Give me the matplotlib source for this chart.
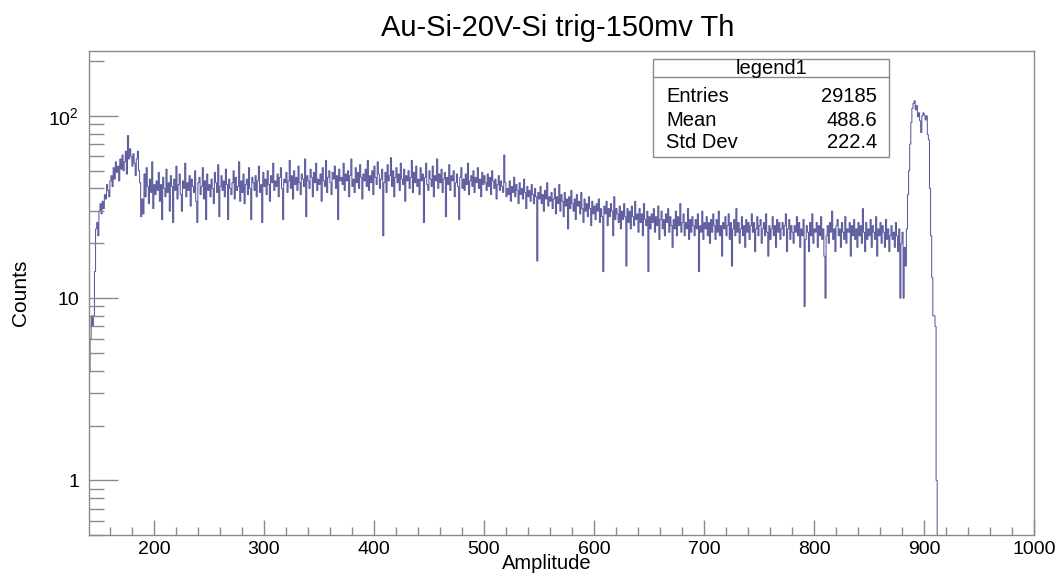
import numpy as np
import matplotlib.pyplot as plt
from matplotlib.ticker import MultipleLocator, LogLocator, FixedLocator, FixedFormatter, NullFormatter
from matplotlib.patches import Rectangle
from matplotlib.lines import Line2D

plt.rcParams['font.family'] = ['Liberation Sans', 'DejaVu Sans']
plt.rcParams['mathtext.fontset'] = 'custom'
plt.rcParams['mathtext.rm'] = 'Liberation Sans'

title = 'Au-Si-20V-Si trig-150mv Th'

# histogram: 1 count per unit bin, first bin starts at amp_lo
amp_lo = 141
counts = [
    4, 6, 8, 7, 8, 14, 24, 26, 22, 30,          # 141
    33, 29, 34, 31, 37, 35, 42, 39, 36, 44,
    47, 41, 52, 45, 56, 49, 53, 44, 58, 51,
    61, 50, 56, 64, 48, 78, 58, 66, 60, 53,
    62, 55, 47, 58, 64, 50, 43, 28, 35, 29,
    48, 36, 52, 41, 33, 45, 38, 56, 31, 42,
    37, 44, 39, 49, 34, 42, 27, 46, 40, 36,     # 201
    51, 38, 43, 30, 47, 41, 26, 45, 39, 53,
    35, 42, 48, 37, 30, 44, 40, 55, 36, 43,
    39, 47, 32, 45, 41, 38, 50, 34, 26, 43,
    46, 37, 41, 52, 35, 44, 27, 48, 39, 42,
    36, 45, 40, 33, 49, 43, 38, 54, 28, 41,
    47, 39, 44, 36, 51, 42, 27, 45, 40, 37,
    43, 50, 35, 46, 39, 41, 56, 34, 44, 38,
    48, 33, 42, 45, 37, 52, 40, 27, 46, 43,
    39, 47, 36, 44, 53, 38, 42, 26, 49, 41,
    45, 37, 50, 42, 34, 47, 43, 55, 39, 44,     # 301
    41, 48, 36, 46, 52, 40, 27, 45, 43, 49,
    38, 44, 57, 40, 47, 35, 50, 42, 46, 39,
    53, 43, 37, 48, 45, 41, 58, 28, 47, 44,
    40, 51, 46, 36, 49, 43, 55, 39, 45, 42,
    48, 34, 52, 44, 41, 57, 38, 46, 50, 43,
    37, 49, 45, 53, 40, 47, 27, 51, 44, 46,
    42, 55, 39, 48, 44, 50, 36, 47, 58, 41,
    45, 38, 52, 43, 49, 40, 54, 46, 35, 48,
    44, 51, 41, 57, 39, 47, 43, 50, 37, 53,
    46, 42, 56, 48, 40, 45, 51, 22, 43, 49,     # 401
    38, 54, 44, 47, 59, 41, 50, 36, 46, 52,
    43, 48, 39, 55, 45, 42, 51, 34, 47, 44,
    50, 40, 46, 57, 38, 49, 43, 53, 41, 45,
    37, 52, 44, 48, 26, 46, 55, 42, 39, 50,
    45, 41, 53, 36, 47, 44, 58, 40, 48, 43,
    51, 38, 45, 49, 28, 46, 42, 54, 39, 47,
    44, 50, 36, 43, 48, 41, 27, 46, 52, 40,
    45, 39, 48, 42, 55, 37, 44, 47, 41, 50,
    38, 46, 43, 52, 40, 45, 36, 49, 42, 47,
    43, 39, 48, 41, 46, 37, 50, 44, 40, 45,     # 501
    35, 42, 47, 39, 44, 41, 38, 61, 43, 36,
    40, 37, 44, 34, 41, 38, 46, 36, 42, 39,
    33, 43, 37, 40, 35, 45, 38, 31, 41, 36,
    39, 34, 42, 37, 33, 40, 36, 16, 38, 35,
    41, 33, 37, 30, 39, 35, 43, 32, 36, 34,
    38, 31, 35, 40, 29, 36, 33, 42, 30, 37,
    34, 28, 38, 32, 35, 24, 36, 31, 39, 33,
    30, 35, 27, 37, 32, 34, 29, 38, 31, 26,
    35, 30, 33, 28, 36, 31, 25, 34, 29, 32,
    27, 33, 30, 35, 26, 31, 28, 14, 32, 29,     # 601
    34, 25, 31, 28, 33, 30, 22, 36, 27, 31,
    29, 26, 32, 24, 30, 27, 33, 28, 15, 31,
    26, 30, 24, 32, 28, 25, 34, 27, 29, 23,
    31, 26, 29, 22, 33, 27, 25, 30, 14, 28,
    24, 29, 26, 31, 23, 28, 25, 32, 21, 27,
    30, 24, 27, 22, 29, 26, 31, 23, 28, 25,
    19, 27, 24, 30, 22, 28, 25, 33, 23, 26,
    29, 22, 26, 24, 31, 21, 27, 23, 28, 25,
    22, 27, 24, 29, 14, 25, 23, 30, 21, 26,
    24, 28, 22, 26, 20, 27, 23, 29, 25, 21,     # 701
    27, 23, 30, 22, 25, 17, 26, 24, 28, 22,
    25, 29, 21, 26, 15, 24, 27, 22, 31, 23,
    26, 20, 24, 28, 22, 25, 19, 27, 23, 26,
    21, 25, 29, 23, 26, 18, 24, 28, 22, 25,
    27, 20, 24, 26, 22, 29, 23, 17, 25, 21,
    24, 28, 22, 25, 19, 27, 23, 26, 21, 24,
    26, 22, 25, 29, 18, 24, 27, 21, 25, 23,
    20, 25, 23, 28, 22, 26, 19, 24, 22, 27,
    9, 21, 25, 23, 18, 26, 22, 29, 20, 24,
    23, 26, 19, 25, 22, 28, 21, 24, 17, 10,     # 801
    22, 25, 20, 26, 23, 30, 21, 24, 18, 25,
    27, 22, 24, 19, 26, 23, 21, 28, 20, 24,
    23, 26, 17, 25, 22, 27, 21, 24, 19, 26,
    22, 25, 20, 31, 23, 18, 26, 21, 24, 22,
    27, 19, 25, 23, 21, 28, 17, 24, 22, 26,
    20, 25, 23, 19, 27, 21, 24, 18, 22, 25,
    21, 23, 19, 26, 22, 18, 24, 10, 20, 23,
    10, 19, 15, 24, 37, 50, 70, 92, 110, 117,   # 881
    121, 108, 114, 99, 104, 94, 81, 100, 104, 101,
    95, 100, 79, 74, 40, 22, 13, 8, 8, 7,
    1,
]

stat_names = ['Entries', 'Mean', 'Std Dev']
stat_values = ['29185', '488.6', '222.4']

y_ticks = [1, 10, 100]
y_ticklabels = ['1', '10', r'$\mathregular{10^{2}}$']

edges = amp_lo + np.arange(len(counts) + 1)

gray = '#8a8a8a'

fig = plt.figure(figsize=(10.59, 5.77), dpi=100)
ax = fig.add_axes([0.0840, 0.0723, 0.8924, 0.8393])

ax.stairs(counts, edges, baseline=0.01, color='#5a5a9c', lw=0.75)

ax.set_yscale('log')
ax.set_xlim(141, 1000)
ax.set_ylim(0.5, 227)

for s in ax.spines.values():
    s.set_color(gray)
    s.set_linewidth(1)

ax.xaxis.set_major_locator(MultipleLocator(100))
ax.xaxis.set_minor_locator(MultipleLocator(20))
ax.yaxis.set_major_locator(FixedLocator(y_ticks))
ax.yaxis.set_major_formatter(FixedFormatter(y_ticklabels))
ax.yaxis.set_minor_locator(LogLocator(base=10, subs=np.arange(2, 10), numticks=20))
ax.yaxis.set_minor_formatter(NullFormatter())

ax.tick_params(axis='x', which='major', direction='in', length=11, width=1, color=gray, labelsize=14, pad=4)
ax.tick_params(axis='x', which='minor', direction='in', length=5.5, width=1, color=gray)
ax.tick_params(axis='y', which='major', direction='in', length=21, width=1, color=gray, labelsize=14, pad=7)
ax.tick_params(axis='y', which='minor', direction='in', length=10.5, width=1, color=gray)

ax.set_xlabel('Amplitude', fontsize=14.5)
ax.xaxis.set_label_coords(0.4847, -0.039)
ax.set_ylabel('Counts', fontsize=15)
ax.yaxis.set_label_coords(-0.062, 0.5)

fig.suptitle(title, x=558 / 1059, y=1 - 28 / 577, va='center', fontsize=21)

# stats box
x0, x1 = 653 / 1059, 889 / 1059
y_top, y_bot = 1 - 59 / 577, 1 - 157 / 577
fig.add_artist(Rectangle((x0, y_bot), x1 - x0, y_top - y_bot, transform=fig.transFigure,
                         facecolor='white', edgecolor=gray, lw=1))
fig.add_artist(Line2D([x0, x1], [1 - 77 / 577] * 2, transform=fig.transFigure, color=gray, lw=1))
fig.text((x0 + x1) / 2, 1 - 68 / 577, 'legend1', ha='center', va='center', fontsize=14.5)
for i, (name, val) in enumerate(zip(stat_names, stat_values)):
    yy = 1 - (97 + 23 * i) / 577
    fig.text(666 / 1059, yy, name, ha='left', va='center', fontsize=14.5)
    fig.text(877 / 1059, yy, val, ha='right', va='center', fontsize=14.5)

fig.savefig('out.png', dpi=100)
